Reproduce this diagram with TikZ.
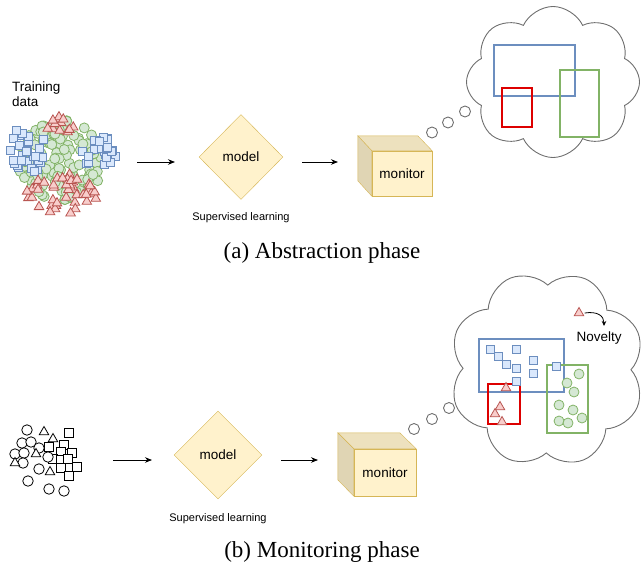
\documentclass[tikz,border=0pt]{standalone}
\usepackage{fontspec}
\setmainfont{Liberation Serif}
\setsansfont{Liberation Sans}
\usepackage{tikz}
\usetikzlibrary{arrows.meta, positioning, shapes, shapes.geometric, shapes.symbols}
\definecolor{DrawBlue}{HTML}{6C8EBF}
\definecolor{DrawBlueFill}{HTML}{DAE8FC}
\definecolor{DrawGreen}{HTML}{82B366}
\definecolor{DrawGreenFill}{HTML}{D5E8D4}
\definecolor{DrawRed}{HTML}{B85450}
\definecolor{DrawRedFill}{HTML}{F8CECC}
\definecolor{DrawYellow}{HTML}{D6B656}
\definecolor{DrawYellowFill}{HTML}{FFF2CC}
\definecolor{RegionRed}{HTML}{DD0000}
\definecolor{CloudGray}{HTML}{6E6E6E}
\colorlet{CubeTop}{DrawYellowFill!93!black}
\colorlet{CubeSide}{DrawYellowFill!88!black}
\newcommand{\boxfont}{\sffamily\fontsize{13.5}{15}\selectfont}
\newcommand{\notefont}{\sffamily\fontsize{11}{13}\selectfont}
\newcommand{\capfont}{\rmfamily\fontsize{23}{26}\selectfont}
\tikzset{
  sq/.style={draw=DrawBlue, fill=DrawBlueFill, line width=0.8pt, minimum size=8pt, inner sep=0pt},
  dot/.style={circle, draw=DrawGreen, fill=DrawGreenFill, line width=0.8pt, minimum size=10pt, inner sep=0pt},
  tri/.style={regular polygon, regular polygon sides=3, draw=DrawRed, fill=DrawRedFill, line width=0.8pt, minimum size=11pt, inner sep=0pt},
  mono/.style={draw=black, fill=white, line width=0.8pt},
  modelbox/.style={diamond, aspect=1, draw=DrawYellow, fill=DrawYellowFill, inner sep=0pt, font=\boxfont},
  cubefront/.style={draw=DrawYellow, fill=DrawYellowFill, inner sep=0pt, font=\boxfont},
  think/.style={cloud, cloud puffs=8, cloud puff arc=130, draw=CloudGray, line width=0.9pt, inner sep=0pt},
  bubble/.style={circle, draw=CloudGray, line width=0.9pt, minimum size=11pt, inner sep=0pt},
  region/.style={line width=2.5pt},
  flow/.style={-{Stealth[length=7pt,width=5.5pt]}, line width=0.8pt}
}
\begin{document}
\begin{tikzpicture}[x=1pt, y=-1pt]
    \useasboundingbox (0,0) rectangle (644,565);

    % Abstraction phase
    \node[anchor=north west, align=left, font=\boxfont, inner sep=0pt] (dataLbl) at (12,82) {Training\\data};

    % Training data
    \pgfmathsetseed{5}
    \foreach \i in {1,...,120}{
        \pgfmathsetmacro\ang{360*rnd}
        \pgfmathsetmacro\rad{sqrt(rnd)}
        \node[dot] (gc\i) at ({60+44*\rad*cos(\ang)}, {160+40*\rad*sin(\ang)}) {};
    }
    \foreach \i in {1,...,30}{
        \pgfmathsetmacro\ang{360*rnd}
        \pgfmathsetmacro\rad{sqrt(rnd)}
        \node[sq] (sl\i) at ({30+20*\rad*cos(\ang)}, {148+25*\rad*sin(\ang)}) {};
    }
    \foreach \i in {1,...,25}{
        \pgfmathsetmacro\ang{360*rnd}
        \pgfmathsetmacro\rad{sqrt(rnd)}
        \node[sq] (sr\i) at ({100+18*\rad*cos(\ang)}, {153+18*\rad*sin(\ang)}) {};
    }
    \foreach \i in {1,...,12}{
        \pgfmathsetmacro\ang{360*rnd}
        \pgfmathsetmacro\rad{sqrt(rnd)}
        \node[tri] (tt\i) at ({60+14*\rad*cos(\ang)}, {127+11*\rad*sin(\ang)}) {};
    }
    \foreach \i in {1,...,45}{
        \pgfmathsetmacro\ang{360*rnd}
        \pgfmathsetmacro\rad{sqrt(rnd)}
        \node[tri] (tb\i) at ({63+36*\rad*cos(\ang)}, {192+22*\rad*sin(\ang)}) {};
    }

    % Model and monitor
    \node[modelbox, minimum width=84pt, minimum height=85pt] (modelA) at (241,157) {model};
    \node[font=\notefont] (supA) at (241,218) {Supervised learning};
    \node[cubefront, minimum width=60pt, minimum height=45pt] (monA) at (402,173.5) {monitor};
    \filldraw[draw=DrawYellow, fill=CubeTop] (monA.north west) -- ++(-14,-15) -- ++(60,0) -- (monA.north east) -- cycle;
    \filldraw[draw=DrawYellow, fill=CubeSide] (monA.north west) -- ++(-14,-15) -- ++(0,45) -- (monA.south west) -- cycle;

    \coordinate (a1s) at (137,162);
    \coordinate (a1e) at (175,162);
    \coordinate (a2s) at (302,162);
    \coordinate (a2e) at (338,162);
    \draw[flow] (a1s) -- (a1e);
    \draw[flow] (a2s) -- (a2e);

    % Thought
    \node[bubble] (bubA1) at (432,132.5) {};
    \node[bubble] (bubA2) at (448,122.5) {};
    \node[bubble] (bubA3) at (465,111.5) {};
    \node[think, minimum width=173pt, minimum height=151pt] (cloudA) at (553,82) {};
    \draw[region, DrawBlue] (494,45) rectangle (575,96);
    \draw[region, RegionRed] (502,88) rectangle (532,127);
    \draw[region, DrawGreen] (560,70) rectangle (599,137);

    \node[font=\capfont] (capA) at (322,253) {(a) Abstraction phase};

    % Monitoring phase
    \foreach \x/\y [count=\k] in {69/433, 49/447, 64/445, 61/452, 72/453, 53/459, 61/460, 68/459, 77/467, 61/468, 69/476}
        \node[mono, minimum size=8.5pt, inner sep=0pt] (ns\k) at (\x,\y) {};
    \foreach \x/\y [count=\k] in {27/430, 22/443, 31/442, 39/448, 15/454, 24/453, 23/463, 48/457, 39/469, 28/481, 49/489, 64/491}
        \node[mono, circle, minimum size=10.5pt, inner sep=0pt] (nc\k) at (\x,\y) {};
    \foreach \x/\y [count=\k] in {44/432, 53/439, 36/454, 15/463, 50/472}
        \node[mono, regular polygon, regular polygon sides=3, minimum size=11pt, inner sep=0pt] (nt\k) at (\x,\y) {};

    \node[modelbox, minimum width=88pt, minimum height=88pt] (modelB) at (218,455) {model};
    \node[font=\notefont] (supB) at (218,519) {Supervised learning};
    \node[cubefront, minimum width=62pt, minimum height=47pt] (monB) at (385,472.5) {monitor};
    \filldraw[draw=DrawYellow, fill=CubeTop] (monB.north west) -- ++(-16,-16) -- ++(62,0) -- (monB.north east) -- cycle;
    \filldraw[draw=DrawYellow, fill=CubeSide] (monB.north west) -- ++(-16,-16) -- ++(0,47) -- (monB.south west) -- cycle;

    \coordinate (b1s) at (113,460);
    \coordinate (b1e) at (152,460);
    \coordinate (b2s) at (281,460);
    \coordinate (b2e) at (318,460);
    \draw[flow] (b1s) -- (b1e);
    \draw[flow] (b2s) -- (b2e);

    % Thought
    \node[bubble] (bubB1) at (414,429) {};
    \node[bubble] (bubB2) at (432,419) {};
    \node[bubble] (bubB3) at (449,408) {};
    \node[think, rotate=22, minimum width=196pt, minimum height=196pt] (cloudB) at (547,369) {};
    \draw[region, DrawBlue] (479,339) rectangle (564,392);
    \draw[region, RegionRed] (488,384) rectangle (520,424);
    \draw[region, DrawGreen] (547,365) rectangle (588,433);
    \foreach \x/\y [count=\k] in {490/349, 498/356, 506/364, 516/349, 516/368, 533/360, 533/373, 516/381, 556/366}
        \node[sq] (cs\k) at (\x,\y) {};
    \foreach \x/\y [count=\k] in {567/383, 579/374, 574/392, 559/405, 573/410, 582/418, 559/421, 568/423}
        \node[dot] (cc\k) at (\x,\y) {};
    \foreach \x/\y [count=\k] in {506/388, 500/407, 495/414, 502/422}
        \node[tri] (ct\k) at (\x,\y) {};

    % Novelty
    \node[tri] (novTri) at (579,313) {};
    \node[font=\boxfont] (novTxt) at (599,338) {Novelty};
    \coordinate (novEnd) at (604,326);
    \draw[-{Stealth[length=5pt,width=4.5pt]}, line width=0.8pt] ([xshift=2pt]novTri.east) .. controls +(13,-2) and +(0,-10) .. (novEnd);

    \node[font=\capfont] (capB) at (322,552) {(b) Monitoring phase};

\end{tikzpicture}
\end{document}
